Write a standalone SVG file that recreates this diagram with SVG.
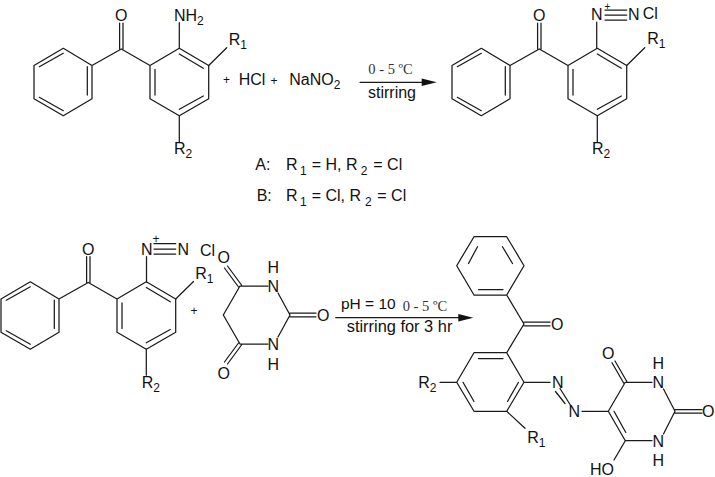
<svg xmlns="http://www.w3.org/2000/svg" xmlns:xlink="http://www.w3.org/1999/xlink" width="715" height="477" viewBox="0 0 715 477">
<style>
.b{fill:none;stroke:#1a1a1a;stroke-width:1.25;stroke-linecap:round;stroke-linejoin:round}
text{font-family:"Liberation Sans",Arial,sans-serif;font-size:16px;fill:#111}
.s{font-size:12px}
.t{font-family:"Liberation Serif","Times New Roman",serif;font-size:14.5px;fill:#333}
.p{font-size:12px}
.c{font-size:10px}
.h{fill:#111;stroke:none}
</style>
<defs>
<path id="core" class="b" d="M63.3 48.3L92 65.5V98.7L63.3 115.7L34 98.7V65.5ZM39.3 66.7L63.3 53.3M87.3 66.7V95M39.3 97.3L63.3 110.7M92 65.5L121.3 49L150 65.5L179.3 48.3L208.7 65.5V98.7L179.3 115.7L150 98.7V65.5M155 69.3V95M179.3 54L203.3 68.3M179.3 109.3L203.3 96M119.6 49V23M123 49V23M179.3 115.7V141.7"/>
</defs>
<g id="reactant-amine">
<use xlink:href="#core" href="#core"/>
<path class="b" d="M179.3 48.3V22.7M208.7 65.5L226.7 47.7"/>
<text x="115" y="20.7">O</text>
<text x="174" y="20.7">NH<tspan class="s" dy="4">2</tspan></text>
<text x="228.7" y="45">R<tspan class="s" dy="4">1</tspan></text>
<text x="174" y="154">R<tspan class="s" dy="4">2</tspan></text>
</g>
<g id="reagents">
<text class="p" x="223" y="84">+</text>
<text x="238.7" y="85">HCl</text>
<text class="p" x="270.5" y="85">+</text>
<text x="289.3" y="85">NaNO<tspan class="s" dy="4">2</tspan></text>
</g>
<g id="reactant-diazonium">
<use xlink:href="#core" href="#core" x="418"/>
<path class="b" d="M596.7 48.3V22M626.7 65.5L644.7 47.7M605 10H626.7M605 15H626.7M605 20H626.7"/>
<text x="533" y="20.7">O</text>
<text x="591" y="20">N</text>
<text class="c" x="604.5" y="9.5">+</text>
<text x="628" y="20">N</text>
<text x="642.7" y="18.5">Cl</text>
<text x="647.3" y="44">R<tspan class="s" dy="4">1</tspan></text>
<text x="592" y="154">R<tspan class="s" dy="4">2</tspan></text>
</g>
<g id="labels">
<text x="255.3" y="170">A:</text>
<text x="286" y="170">R</text><text class="s" x="300" y="174.5">1</text>
<text x="311.7" y="170">= H, R</text><text class="s" x="360.7" y="174.5">2</text>
<text x="373.3" y="170">= Cl</text>
<text x="256.7" y="201">B:</text>
<text x="286" y="201">R</text><text class="s" x="300" y="205.5">1</text>
<text x="311.7" y="201">= Cl, R</text><text class="s" x="365" y="205.5">2</text>
<text x="377.3" y="201">= Cl</text>
</g>
<g id="reactant-diazonium-2">
<use xlink:href="#core" href="#core" x="-33" y="233.5"/>
<path class="b" d="M146.5 281.8V256.5M175.7 299L193.5 281.5M154 243.7H175.7M154 249H175.7M154 254H175.7"/>
<text x="82" y="254.5">O</text>
<text x="141" y="254.5">N</text>
<text class="s" x="152.5" y="243">+</text>
<text x="177.5" y="254.5">N</text>
<text x="200" y="256">Cl</text>
<text x="195.3" y="279">R<tspan class="s" dy="4">1</tspan></text>
<text x="141.7" y="388">R<tspan class="s" dy="4">2</tspan></text>
<text class="p" x="190.5" y="315">+</text>
</g>
<g id="barbituric-acid">
<path class="b" d="M268 286H240L223.3 315L240 344H268M278 293L290 315L278 337M290 313.2H316M290 316.8H316M241.5 285L227.5 266M238.5 287L224.5 268M241.5 345L227.5 364M238.5 343L224.5 362"/>
<text x="217.5" y="262.5">O</text>
<text x="267.5" y="292">N</text>
<text x="267.5" y="273">H</text>
<text x="317" y="321">O</text>
<text x="267.5" y="350">N</text>
<text x="267.5" y="370">H</text>
<text x="217.5" y="379">O</text>
</g>
<g id="connectors">
<path class="b" d="M360 82.3H424M335.7 317.7H460"/>
<path class="h" d="M436.7 82.3L421.7 78.5V86.1ZM473.3 317.7L458.3 313.9V321.5Z"/>
</g>
<g id="conditions">
<text class="t" x="368.3" y="74">0 - 5 ºC</text>
<text x="368" y="98.3">stirring</text>
<text x="341" y="309" style="font-size:15.5px">pH = 10</text>
<text class="t" x="402.7" y="310.7">0 - 5 ºC</text>
<text x="346.7" y="332.3" style="font-size:16.4px">stirring for 3 hr</text>
</g>
<g id="product">
<path class="b" d="M474 236.7H506.7L524 265.7L506.7 295H474L456.7 265.7ZM468.5 263.5L477.5 246.7M512.5 263.5L502.5 246.7M478.5 289.5H503M506.7 295L524 324L506.7 352.7H474L456.7 382.3L474 411.3H506.7L524 382.3L506.7 352.7M524 322.2H550M524 325.8H550M478.5 358.5H503M518.5 382.3L507.5 401.5M463 382.3L474 401.5M440 382.3H456.7M524 382.3H550M506.7 411.3L525 428.3M560 388.5L571 406M555.5 391.5L565 403.5M582 411.3H608.3L625.3 382.3H652M663.5 389L675 411.3L663.5 434M652 440.7H625.3L608.3 411.3M614 411.3L625.8 432.5M625.3 440.7L614 460M675 409.5H702M675 413H702M626.8 381.5L615 361M623.8 383.2L612 362.7"/>
<text x="418.3" y="388.3">R<tspan class="s" dy="4">2</tspan></text>
<text x="527.3" y="442.7">R<tspan class="s" dy="4">1</tspan></text>
<text x="551" y="330">O</text>
<text x="552" y="388">N</text>
<text x="568.5" y="417">N</text>
<text x="602" y="359">O</text>
<text x="652.5" y="388">N</text>
<text x="652.5" y="369">H</text>
<text x="702" y="417">O</text>
<text x="652.5" y="446.5">N</text>
<text x="652.5" y="466">H</text>
<text x="590" y="475">HO</text>
</g>
</svg>
